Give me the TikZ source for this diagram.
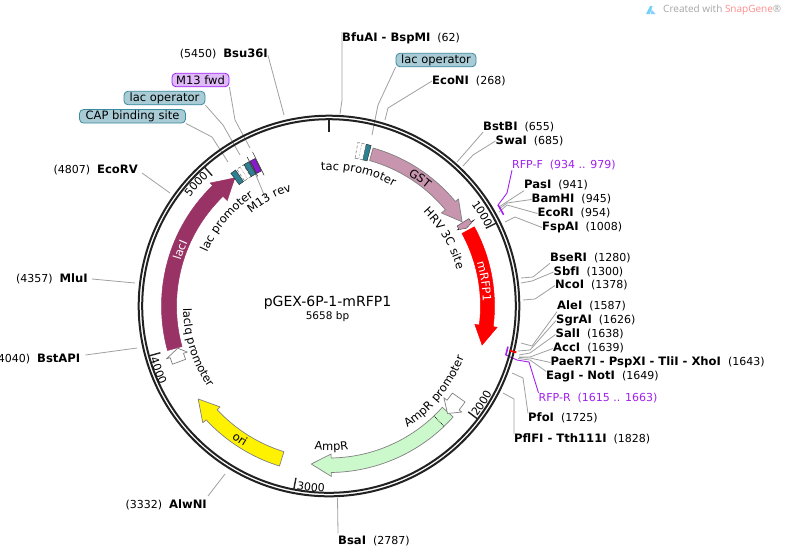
\documentclass[tikz,border=0pt]{standalone}
\usepackage{fontspec}
\setmainfont{DejaVu Sans}
\newfontfamily\wmfont{Open Sans}
\usetikzlibrary{decorations.text,calc}
\definecolor{leadgray}{HTML}{A0A0A0}
\definecolor{ringblack}{HTML}{222222}
\definecolor{gstpink}{HTML}{C795AD}
\definecolor{amprgreen}{HTML}{CCF9CC}
\definecolor{lacipurple}{HTML}{993366}
\definecolor{tealblock}{HTML}{2F7F93}
\definecolor{pillteal}{HTML}{A9CBD6}
\definecolor{pilltealb}{HTML}{3A8AA0}
\definecolor{pilllilac}{HTML}{E0BAF8}
\definecolor{primerpurple}{HTML}{A020F0}
\tikzset{
  leader/.style={draw=leadgray,line width=0.8pt},
  primerline/.style={draw=primerpurple,line width=0.9pt},
  enzlabel/.style={inner sep=0pt,font=\fontsize{11}{13}\selectfont,text height=8pt,text depth=2pt},
  primerlabel/.style={enzlabel,text=primerpurple},
  featpill/.style={rounded corners=4pt,line width=0.8pt,inner sep=0pt,font=\fontsize{11.5}{13}\selectfont,minimum height=13.5pt},
  tealpill/.style={featpill,fill=pillteal,draw=pilltealb},
  lilacpill/.style={featpill,fill=pilllilac,draw=primerpurple},
  featshape/.style={draw=gray,line width=0.7pt,line join=round},
  openshape/.style={featshape,fill=white},
  blockshape/.style={draw=ringblack,line width=0.4pt},
  ringline/.style={draw=ringblack,line width=2pt},
  tickmark/.style={draw=ringblack,line width=1.4pt},
}
\newcommand\lblsep{\hspace{7pt}}
\newcommand\rlab[5]{\node[enzlabel,anchor=west] (#1) at (#2,#3) {\fontsize{11.6}{13}\selectfont\textbf{#4}\fontsize{11}{13}\selectfont\lblsep(#5)};}
\newcommand\llab[5]{\node[enzlabel,anchor=east] (#1) at (#2,#3) {\fontsize{11}{13}\selectfont(#5)\lblsep\fontsize{11.6}{13}\selectfont\textbf{#4}};}
% th0 th1 th2 rin rout headin headout rtip style
\newcommand\featarrow[9]{\draw[#9] ({90-(#1)}:#4) arc[start angle={90-(#1)},end angle={90-(#2)},radius=#4] -- ({90-(#2)}:#6) -- ({90-(#3)}:#8) -- ({90-(#2)}:#7) -- ({90-(#2)}:#5) arc[start angle={90-(#2)},end angle={90-(#1)},radius=#5] -- cycle;}
\newcommand\featblock[5]{\draw[#5] ({90-(#1)}:#3) arc[start angle={90-(#1)},end angle={90-(#2)},radius=#3] -- ({90-(#2)}:#4) arc[start angle={90-(#2)},end angle={90-(#1)},radius=#4] -- cycle;}
% radius centre-theta direction(+1 cw,-1 ccw) format text
\newcommand\arctext[5]{\path[decorate,decoration={text along path,text align=center,text={|#4|#5}}] ({90-(#2)+(#3)*50}:#1) arc[start angle={90-(#2)+(#3)*50},end angle={90-(#2)-(#3)*50},radius=#1];}
\newcommand\ffeat{\fontsize{11.5}{13}\selectfont}
\newcommand\ftick{\fontsize{11}{13}\selectfont}
\newcommand\fwhite{\fontsize{11.5}{13}\selectfont\color{white}}
\begin{document}
\begin{tikzpicture}[x=1pt,y=-1pt]
\useasboundingbox (0,0) rectangle (790,558);
\fill[white] (0,0) rectangle (790,558);

% ---------- labels ----------
\rlab{bfuai}{342}{38}{BfuAI - BspMI}{62}
\rlab{econi}{432}{81}{EcoNI}{268}
\rlab{bstbi}{483}{127}{BstBI}{655}
\rlab{swai}{495.5}{141}{SwaI}{685}
\rlab{pasi}{524}{185.5}{PasI}{941}
\rlab{bamhi}{531.5}{199.5}{BamHI}{945}
\rlab{ecori}{537.5}{213.5}{EcoRI}{954}
\rlab{fspai}{542}{227.5}{FspAI}{1008}
\rlab{bseri}{550}{258}{BseRI}{1280}
\rlab{sbfi}{553.5}{272}{SbfI}{1300}
\rlab{ncoi}{555}{285.5}{NcoI}{1378}
\rlab{alei}{557}{306.5}{AleI}{1587}
\rlab{sgrai}{556}{320.5}{SgrAI}{1626}
\rlab{sali}{555.5}{334.5}{SalI}{1638}
\rlab{acci}{553}{348.5}{AccI}{1639}
\rlab{paer}{550.5}{362.5}{PaeR7I - PspXI - TliI - XhoI}{1643}
\rlab{eagi}{546}{376.5}{EagI - NotI}{1649}
\rlab{pfoi}{528}{418.5}{PfoI}{1725}
\rlab{pflfi}{514}{439.5}{PflFI - Tth111I}{1828}
\rlab{bsai}{338}{541.5}{BsaI}{2787}
\llab{alwni}{207}{505.5}{AlwNI}{3332}
\llab{bstapi}{80.5}{359}{BstAPI}{4040}
\llab{mlui}{88}{279}{MluI}{4357}
\llab{ecorv}{138}{170}{EcoRV}{4807}
\llab{bsu}{268}{54.5}{Bsu36I}{5450}
\node[primerlabel,anchor=west] (rfpf) at (512,165) {RFP-F\lblsep(934 .. 979)};
\node[primerlabel,anchor=west] (rfpr) at (538.5,398) {RFP-R\lblsep(1615 .. 1663)};
\node[tealpill,minimum width=80pt] (lacoptop) at (436,60) {lac operator};
\node[lilacpill,minimum width=57pt] (m13fwd) at (200.5,80) {M13 fwd};
\node[tealpill,minimum width=81pt] (lacopleft) at (164.5,98) {lac operator};
\node[tealpill,minimum width=106pt] (capsite) at (132.5,116.3) {CAP binding site};
\node[inner sep=0pt,font=\fontsize{14}{16}\selectfont] (plasmid) at (327.5,303) {pGEX-6P-1-mRFP1};
\node[inner sep=0pt,font=\fontsize{10.5}{12}\selectfont] (plasmidbp) at (327.5,317) {5658 bp};

% ---------- ring end points of the leaders ----------
\coordinate (rbfu) at (340,114);
\coordinate (reco) at (385,120);
\coordinate (rbst) at (457,162);
\coordinate (rswa) at (463,166);
\coordinate (rpas) at (499,207);
\coordinate (rbam) at (499,209);
\coordinate (rece) at (499,212);
\coordinate (rfsp) at (505,222);
\coordinate (rbse) at (521,278);
\coordinate (rsbf) at (521,283);
\coordinate (rnco) at (523,300);
\coordinate (rale) at (521,343);
\coordinate (rsgr) at (518,351);
\coordinate (rsal) at (519,355);
\coordinate (racc) at (519,357);
\coordinate (rpae) at (519,357.5);
\coordinate (reag) at (518,358.5);
\coordinate (rpfo) at (512,373);
\coordinate (rpfl) at (503,393);
\coordinate (rbsa) at (337.5,498);
\coordinate (ralw) at (225,474);
\coordinate (rbap) at (137,348);
\coordinate (rmlu) at (135,283);
\coordinate (recv) at (170,193);
\coordinate (rbsu) at (284,115);
\coordinate (rtop) at (372,135);
\coordinate (rm13) at (250,148);
\coordinate (rlac) at (240,155);
\coordinate (rcap) at (228,162);
\coordinate (rrev) at (255,173);
\coordinate (rrevb) at (265,197);

% ---------- leaders ----------
\draw[leader] (bfuai.north west) ++(0,-1) -- (342,47) -- (342,100) -- (rbfu);
\path (bfuai.south west);
\draw[leader] (lacoptop.south west) ++(0,0) -- (378,105) -- (rtop);
\draw[leader] (econi.west) -- (388,108) -- (reco);
\draw[leader] (bstbi.south west) -- (rbst);
\draw[leader] (swai.west) -- (473,155) -- (rswa);
\draw[leader] (pasi.south west) -- (505,203) -- (rpas);
\draw[leader] (bamhi.west) -- (507,203) -- (rbam);
\draw[leader] (ecori.west) -- (507,205) -- (rece);
\draw[leader] (fspai.west) -- (515,217) -- (rfsp);
\draw[leader] (bseri.south west) -- (533,277) -- (rbse);
\draw[leader] (sbfi.west) -- (532,281) -- (rsbf);
\draw[leader] (ncoi.west) -- (535,299) -- (rnco);
\draw[leader] (alei.south west) -- (532,346) -- (rale);
\draw[leader] (sgrai.west) -- (530,350) -- (rsgr);
\draw[leader] (sali.west) -- (530,353) -- (rsal);
\draw[leader] (acci.west) -- (530,357) -- (racc);
\draw[leader] (paer.west) -- (530,358) -- (rpae);
\draw[leader] (eagi.north west) -- (530,360) -- (reag);
\draw[leader] (pfoi.north west) -- (523,378) -- (rpfo);
\draw[leader] (pflfi.north west) -- (514,399) -- (rpfl);
\draw[leader] (bsai.north west) ++(0,-3) -- (rbsa);
\draw[leader] (208,496) -- (ralw);
\draw[leader] (bstapi.east) ++(5,-4) -- (rbap);
\draw[leader] (mlui.east) ++(4,0) -- (rmlu);
\draw[leader] (ecorv.east) ++(4,3) -- (recv);
\draw[leader] (bsu.north east) ++(0,6) -- (rbsu);
\draw[leader] (m13fwd.south east) -- (235,120) -- (rm13);
\draw[leader] (lacopleft.south east) -- (223,125) -- (rlac);
\draw[leader] (capsite.south east) -- (212,137) -- (rcap);
\draw[leader] (rrev) -- (rrevb);
\draw[primerline] (rfpf.south west) -- (507,193) -- (498,205);
\draw[primerline] (rfpr.north west) -- (529,362) -- (517,360) -- (506,355);

% ---------- circular map, origin at the centre ----------
\begin{scope}[shift={(329,306)},y=1pt]
  \draw[ringline] (0,0) circle[radius=190.3];
  \draw[ringline] (0,0) circle[radius=186.8];
  % ticks
  \draw[draw=ringblack,line width=2.2pt] (90:187) -- (90:174);
  \foreach \t in {1000,2000,3000,4000,5000}{
    \pgfmathsetmacro\ang{90-\t/5658*360}
    \draw[tickmark] (\ang:187) -- (\ang:175);
  }
  \arctext{175}{59}{1}{\ftick}{1000}
  \arctext{185}{122.5}{-1}{\ftick}{2000}
  \arctext{186}{185.7}{-1}{\ftick}{3000}
  \arctext{186.5}{249.2}{-1}{\ftick}{4000}
  \arctext{176.5}{-47.5}{1}{\ftick}{5000}
  % feature arrows
  \featarrow{15.6}{50.4}{57.7}{151}{164}{146}{168}{157.5}{featshape,fill=gstpink}
  \featarrow{61.4}{97.2}{104.3}{151.5}{165.5}{147}{169.5}{158}{draw=red,line width=0.5pt,fill=red}
  \featarrow{131.8}{179.2}{186.4}{152}{166.5}{148}{170.5}{159}{featshape,fill=amprgreen}
  \featarrow{197.2}{227.2}{234.6}{152.5}{167.5}{148.5}{172}{160.5}{featshape,fill=yellow}
  \featarrow{254.6}{316}{323.7}{152.5}{167.5}{146.5}{171}{159}{draw=lacipurple,line width=0.5pt,fill=lacipurple}
  \featarrow{249.6}{252}{254.4}{153}{167}{149}{171}{157}{openshape}
  \featarrow{125.2}{128.6}{132.2}{151}{166.5}{147}{170}{160}{openshape}
  \featarrow{58}{59.3}{60.5}{151}{165}{149}{169}{158}{draw=ringblack,line width=0.3pt,fill=gstpink}
  \draw[densely dotted,black,line width=0.7pt] ({90-136.3}:152) -- ({90-136.3}:166.5);
  % blocks
  \featblock{12.9}{14.7}{150}{166}{blockshape,fill=tealblock}
  \featblock{10}{12.9}{150}{166}{draw=gray,line width=0.6pt,densely dashed,fill=white}
  \draw[gray,line width=0.5pt,densely dotted] ({90-11.4}:150) -- ({90-11.4}:166);
  \featblock{-36.5}{-34.5}{151}{165}{blockshape,fill=tealblock}
  \featblock{-34}{-31.2}{151}{165}{draw=gray,line width=0.6pt,densely dashed,fill=white}
  \draw[gray,line width=0.5pt,densely dotted] ({90+32.6}:151) -- ({90+32.6}:165);
  \featblock{-31}{-29}{151}{165}{blockshape,fill=tealblock}
  \featblock{-28.6}{-26.6}{151}{165}{blockshape,fill=primerpurple!85!black}
  \draw[ringblack,line width=0.5pt] ({90+28.8}:148) -- ({90+28.8}:170);
  \draw[ringblack,line width=0.5pt] ({90+26.4}:146) -- ({90+26.4}:172);
  % primers
  \draw[draw=primerpurple,line width=1.6pt] ({90-59.1}:197) arc[start angle={90-59.1},end angle={90-62.4},radius=197];
  \draw[draw=primerpurple,line width=1.6pt] ({90-102.8}:183.5) arc[start angle={90-102.8},end angle={90-105.6},radius=183.5];
  \draw[draw=red,line width=1.8pt] ({90-103.9}:186) -- ({90-103.9}:193);
  % feature texts
  \arctext{136}{12.5}{1}{\ffeat}{tac promoter}
  \arctext{153}{35.5}{1}{\ffeat}{GST}
  \arctext{133}{59.6}{1}{\ffeat}{HRV 3C site}
  \arctext{154}{81}{1}{\fwhite}{mRFP1}
  \arctext{133}{-50.4}{1}{\ffeat}{lac promoter}
  \arctext{121}{-29}{1}{\ffeat}{M13 rev}
  \arctext{146}{252.5}{-1}{\ffeat}{lacIq promoter}
  \arctext{144.5}{129}{-1}{\ffeat}{AmpR promoter}
  \arctext{144.5}{179}{-1}{\ffeat}{AmpR}
  \arctext{164}{213.8}{-1}{\ffeat}{ori}
  \arctext{155}{290.6}{1}{\fwhite}{lacI}
\end{scope}

% ---------- watermark ----------
\fill[cyan!55!white] (646,14) -- (650,6) -- (652.5,6) -- (650,14) -- cycle;
\fill[blue!45!cyan!45!white] (651.5,9.5) -- (655.5,14) -- (651,14) -- cycle;
\node[inner sep=0pt,anchor=west,font=\wmfont\fontsize{10}{12}\selectfont,text=gray!70] (wm) at (663,9.5) {Created with \textcolor{red!45!white}{SnapGene}®};
\end{tikzpicture}
\end{document}
